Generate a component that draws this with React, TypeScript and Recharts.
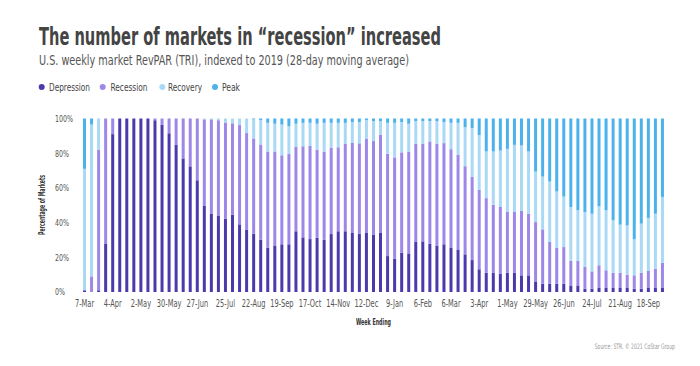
import React from 'react'
import { BarChart, Bar, XAxis, YAxis } from 'recharts'

const weeks = [
  '7-Mar', '14-Mar', '21-Mar', '28-Mar', '4-Apr', '11-Apr', '18-Apr', '25-Apr', '2-May', '9-May',
  '16-May', '23-May', '30-May', '6-Jun', '13-Jun', '20-Jun', '27-Jun', '4-Jul', '11-Jul', '18-Jul',
  '25-Jul', '1-Aug', '8-Aug', '15-Aug', '22-Aug', '29-Aug', '5-Sep', '12-Sep', '19-Sep', '26-Sep',
  '3-Oct', '10-Oct', '17-Oct', '24-Oct', '31-Oct', '7-Nov', '14-Nov', '21-Nov', '28-Nov', '5-Dec',
  '12-Dec', '19-Dec', '26-Dec', '2-Jan', '9-Jan', '16-Jan', '23-Jan', '30-Jan', '6-Feb', '13-Feb',
  '20-Feb', '27-Feb', '6-Mar', '13-Mar', '20-Mar', '27-Mar', '3-Apr', '10-Apr', '17-Apr', '24-Apr',
  '1-May', '8-May', '15-May', '22-May', '29-May', '5-Jun', '12-Jun', '19-Jun', '26-Jun', '3-Jul',
  '10-Jul', '17-Jul', '24-Jul', '31-Jul', '7-Aug', '14-Aug', '21-Aug', '28-Aug', '4-Sep', '11-Sep',
  '18-Sep', '25-Sep', '2-Oct',
]

const depression = [
  1, 0, 1, 28, 91, 100, 100, 100, 100, 100,
  99, 96.5, 91.5, 85, 77, 72.4, 64.4, 49.6, 45, 43.8,
  42.3, 44.6, 39, 36, 33.6, 30.2, 25.6, 26.5, 27.5, 27.5,
  35, 31.5, 30.5, 31.3, 30.2, 33.4, 35, 35, 34, 33.6,
  34, 32.9, 34, 20.7, 19.2, 22.7, 21.9, 28.8, 29.2, 27.7,
  26.8, 27.5, 25.4, 24.5, 21.7, 18.4, 13.1, 11.1, 11, 10.6,
  11, 11, 9.6, 9.6, 6.1, 4.8, 4.8, 4.8, 4.8, 3.8,
  3.8, 1.9, 1.9, 2.3, 2.3, 2.3, 2.3, 2.3, 1.9, 1.9,
  2.3, 2.3, 2.3,
]

const recession = [
  0, 9, 81, 72, 9, 0, 0, 0, 0, 0,
  1, 3.5, 8.5, 15, 23, 27.6, 35.6, 49.9, 54.5, 55.2,
  55.4, 52.6, 57.2, 55.6, 54.9, 54.8, 55.4, 54.5, 51.3, 52,
  48.8, 52.5, 53.8, 50.7, 50.7, 49.8, 48.4, 50.3, 51.9, 52.1,
  54.2, 54.1, 56.7, 59, 58.4, 57.8, 58.8, 56.7, 56.3, 59.1,
  58.7, 58.3, 56.9, 54.5, 50.8, 48.1, 45.9, 43, 39.3, 38.4,
  35.1, 35.1, 37.1, 35.5, 34.2, 31.3, 24, 20.6, 21.1, 14.1,
  14.1, 12.5, 10, 13.1, 10.2, 8.7, 8.7, 7.7, 7.7, 9.2,
  9.8, 11.1, 14.6,
]

const recovery = [
  70, 87.5, 18, 0, 0, 0, 0, 0, 0, 0,
  0, 0, 0, 0, 0, 0, 0, 0.5, 0.5, 1,
  2.3, 2.8, 3.8, 8.4, 11, 14, 16.5, 16, 17.7, 16,
  13.2, 13.5, 13.2, 15, 16.6, 14.3, 14.1, 12.2, 12.1, 12.3,
  10.8, 11.5, 7.8, 17.8, 19.9, 17.5, 16.3, 13, 13, 11.7,
  13, 12.2, 15.2, 18.5, 22.5, 28, 31.5, 26.9, 30.7, 32.5,
  36.4, 38.7, 37.8, 35.9, 29.1, 30.4, 34.9, 32.5, 29.1, 31.1,
  29.2, 31.7, 33.2, 34, 34.6, 30.3, 27.8, 28.4, 20.8, 28.3,
  30.6, 31.7, 37.9,
]

const peak = [
  29, 3.5, 0, 0, 0, 0, 0, 0, 0, 0,
  0, 0, 0, 0, 0, 0, 0, 0, 0, 0,
  0, 0, 0, 0, 0.5, 1, 2.5, 3, 3.5, 4.5,
  3, 2.5, 2.5, 3, 2.5, 2.5, 2.5, 2.5, 2, 2,
  1, 1.5, 1.5, 2.5, 2.5, 2, 3, 1.5, 1.5, 1.5,
  1.5, 2, 2.5, 2.5, 5, 5.5, 9.5, 19, 19, 18.5,
  17.5, 15.2, 15.5, 19, 30.6, 33.5, 36.3, 42.1, 45, 51,
  52.9, 53.9, 54.9, 50.6, 52.9, 58.7, 61.2, 61.6, 69.6, 60.6,
  57.3, 54.9, 45.2,
]

const yTicks = [0, 20, 40, 60, 80, 100]

const series = [
  { key: 'Depression', color: '#4b3aab', values: depression, dotX: 41.7, textX: 49, textW: 41 },
  { key: 'Recession', color: '#9d87e9', values: recession, dotX: 102.7, textX: 110.5, textW: 37 },
  { key: 'Recovery', color: '#aad9f6', values: recovery, dotX: 162.3, textX: 168, textW: 34 },
  { key: 'Peak', color: '#4cb2ec', values: peak, dotX: 215, textX: 222, textW: 18 },
]

const data = weeks.map((week, i) => {
  const row: Record<string, string | number> = { week }
  series.forEach(s => { row[s.key] = s.values[i] })
  return row
})

const narrow = '"Liberation Sans Narrow", "DejaVu Sans Condensed", "Liberation Sans", sans-serif'
const squeeze = 0.74

// condensed tick labels: no narrow font installed, so scale horizontally
const XTick = (props: any) => {
  const { x, y, payload } = props
  return (
    <g transform={`translate(${x},${y + 9}) scale(${squeeze},1)`}>
      <text x={0} y={0} textAnchor="middle" fontSize={10} fill="#555" fontFamily={narrow}>
        {payload.value}
      </text>
    </g>
  )
}

const YTick = (props: any) => {
  const { y, payload } = props
  return (
    <g transform={`translate(55,${y + 3.3}) scale(${squeeze},1)`}>
      <text x={0} y={0} fontSize={9.5} fill="#555" fontFamily={narrow}>
        {payload.value}%
      </text>
    </g>
  )
}

export default function App() {
  return (
    <div style={{ position: 'absolute', left: 0, top: 0, width: 700, height: 366, background: '#fff' }}>
      <BarChart
        width={700}
        height={366}
        data={data}
        margin={{ top: 118.5, right: 34, bottom: 44, left: 41 }}
        barCategoryGap={2}
      >
        <XAxis
          dataKey="week"
          interval={3}
          tickLine={false}
          axisLine={false}
          tickSize={4}
          height={30}
          tick={<XTick />}
        />
        <YAxis
          domain={[0, 100]}
          ticks={yTicks}
          width={40}
          tickLine={false}
          axisLine={false}
          tick={<YTick />}
        />
        {series.map(s => (
          <Bar key={s.key} dataKey={s.key} stackId="markets" fill={s.color} isAnimationActive={false} />
        ))}
      </BarChart>
      <svg
        width={700}
        height={366}
        style={{ position: 'absolute', left: 0, top: 0, pointerEvents: 'none' }}
      >
        <text x={39} y={45} fontSize={25} fontWeight="bold" fill="#444" fontFamily={narrow}
          textLength={402} lengthAdjust="spacingAndGlyphs">
          The number of markets in “recession” increased
        </text>
        <text x={39} y={65} fontSize={14.5} fill="#555" fontFamily={narrow}
          textLength={370} lengthAdjust="spacingAndGlyphs">
          U.S. weekly market RevPAR (TRI), indexed to 2019 (28-day moving average)
        </text>
        {series.map(s => (
          <g key={s.key}>
            <circle cx={s.dotX} cy={87} r={3} fill={s.color} />
            <text x={s.textX} y={90.5} fontSize={10} fill="#444" fontFamily={narrow}
              textLength={s.textW} lengthAdjust="spacingAndGlyphs">
              {s.key}
            </text>
          </g>
        ))}
        <text x={0} y={0} transform="translate(44.5 205) rotate(-90)" textAnchor="middle"
          fontSize={8.5} fontWeight="bold" fill="#333" fontFamily={narrow}
          textLength={60} lengthAdjust="spacingAndGlyphs">
          Percentage of Markets
        </text>
        <text x={356} y={325} fontSize={8.5} fontWeight="bold" fill="#333" fontFamily={narrow}
          textLength={35} lengthAdjust="spacingAndGlyphs">
          Week Ending
        </text>
        <g transform="translate(675,349) scale(0.68,1)">
          <text x={0} y={0} textAnchor="end" fontSize={7.5} fill="#999" fontFamily={narrow}>
            Source: STR. © 2021 CoStar Group
          </text>
        </g>
      </svg>
    </div>
  )
}
